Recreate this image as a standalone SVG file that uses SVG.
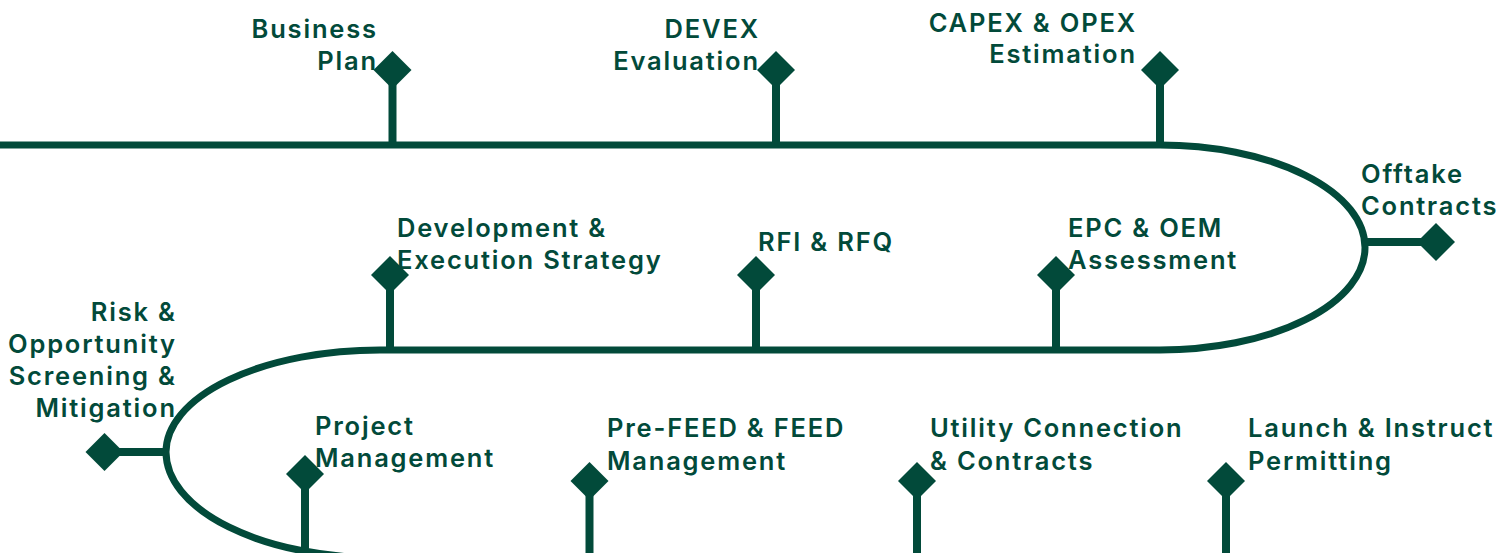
<svg xmlns="http://www.w3.org/2000/svg" width="1512" height="553" viewBox="0 0 1512 553">
<style>
.ln{fill:none;stroke:#024a3a;stroke-width:7}
.st{stroke:#024a3a;stroke-width:8}
.dm{fill:#024a3a}
text{font-family:Inter,"Open Sans",sans-serif;font-weight:600;font-size:25.5px;fill:#024a3a;letter-spacing:1.8px}
.r{text-anchor:end}
</style>
<defs>
<polygon id="d" points="0,-19 19,0 0,19 -19,0"/>
</defs>
<rect width="1512" height="553" fill="#ffffff"/>
<g id="connectors">
<path class="ln" d="M0,145 H1160 A205,102.5 0 0 1 1160,350 H380 A214,102 0 0 0 166,452 A214,106 0 0 0 380,558"/>
</g>
<g id="n1"><line class="st" x1="392.5" y1="145" x2="392.5" y2="80"/><use href="#d" class="dm" x="392.5" y="70"/><text class="r" y="38"><tspan x="377.8">Business</tspan><tspan x="377.8" y="70">Plan</tspan></text></g>
<g id="n2"><line class="st" x1="776" y1="145" x2="776" y2="80"/><use href="#d" class="dm" x="776" y="70"/><text class="r" y="38"><tspan x="759.8">DEVEX</tspan><tspan x="759.8" y="70">Evaluation</tspan></text></g>
<g id="n3"><line class="st" x1="1160" y1="145" x2="1160" y2="80"/><use href="#d" class="dm" x="1160" y="70"/><text class="r" y="32"><tspan x="1136.8">CAPEX &amp; OPEX</tspan><tspan x="1136.8" y="63">Estimation</tspan></text></g>
<g id="n4"><line class="st" x1="1363" y1="242" x2="1430" y2="242"/><use href="#d" class="dm" x="1436" y="242"/><text y="183"><tspan x="1361">Offtake</tspan><tspan x="1361" y="215">Contracts</tspan></text></g>
<g id="n5"><line class="st" x1="1056" y1="350" x2="1056" y2="285"/><use href="#d" class="dm" x="1056" y="275"/><text y="237"><tspan x="1068">EPC &amp; OEM</tspan><tspan x="1068" y="269">Assessment</tspan></text></g>
<g id="n6"><line class="st" x1="756" y1="350" x2="756" y2="285"/><use href="#d" class="dm" x="756" y="275"/><text x="758" y="251">RFI &amp; RFQ</text></g>
<g id="n7"><line class="st" x1="390" y1="350" x2="390" y2="285"/><use href="#d" class="dm" x="390" y="275"/><text y="237"><tspan x="397">Development &amp;</tspan><tspan x="397" y="269">Execution Strategy</tspan></text></g>
<g id="n8"><line class="st" x1="166" y1="452" x2="110" y2="452"/><use href="#d" class="dm" x="104.5" y="452"/><text class="r" y="321"><tspan x="176.8">Risk &amp;</tspan><tspan x="176.8" y="353">Opportunity</tspan><tspan x="176.8" y="385">Screening &amp;</tspan><tspan x="176.8" y="417">Mitigation</tspan></text></g>
<g id="n9"><line class="st" x1="305" y1="550" x2="305" y2="484"/><use href="#d" class="dm" x="305" y="474"/><text y="435"><tspan x="315">Project</tspan><tspan x="315" y="467">Management</tspan></text></g>
<g id="n10"><line class="st" x1="589.5" y1="553" x2="589.5" y2="490"/><use href="#d" class="dm" x="589.5" y="481"/><text y="437"><tspan x="607">Pre-FEED &amp; FEED</tspan><tspan x="607" y="470">Management</tspan></text></g>
<g id="n11"><line class="st" x1="917" y1="553" x2="917" y2="490"/><use href="#d" class="dm" x="917" y="481"/><text y="437"><tspan x="930">Utility Connection</tspan><tspan x="930" y="470">&amp; Contracts</tspan></text></g>
<g id="n12"><line class="st" x1="1226" y1="553" x2="1226" y2="490"/><use href="#d" class="dm" x="1226" y="481"/><text y="437"><tspan x="1248">Launch &amp; Instruct</tspan><tspan x="1248" y="470">Permitting</tspan></text></g>
</svg>
